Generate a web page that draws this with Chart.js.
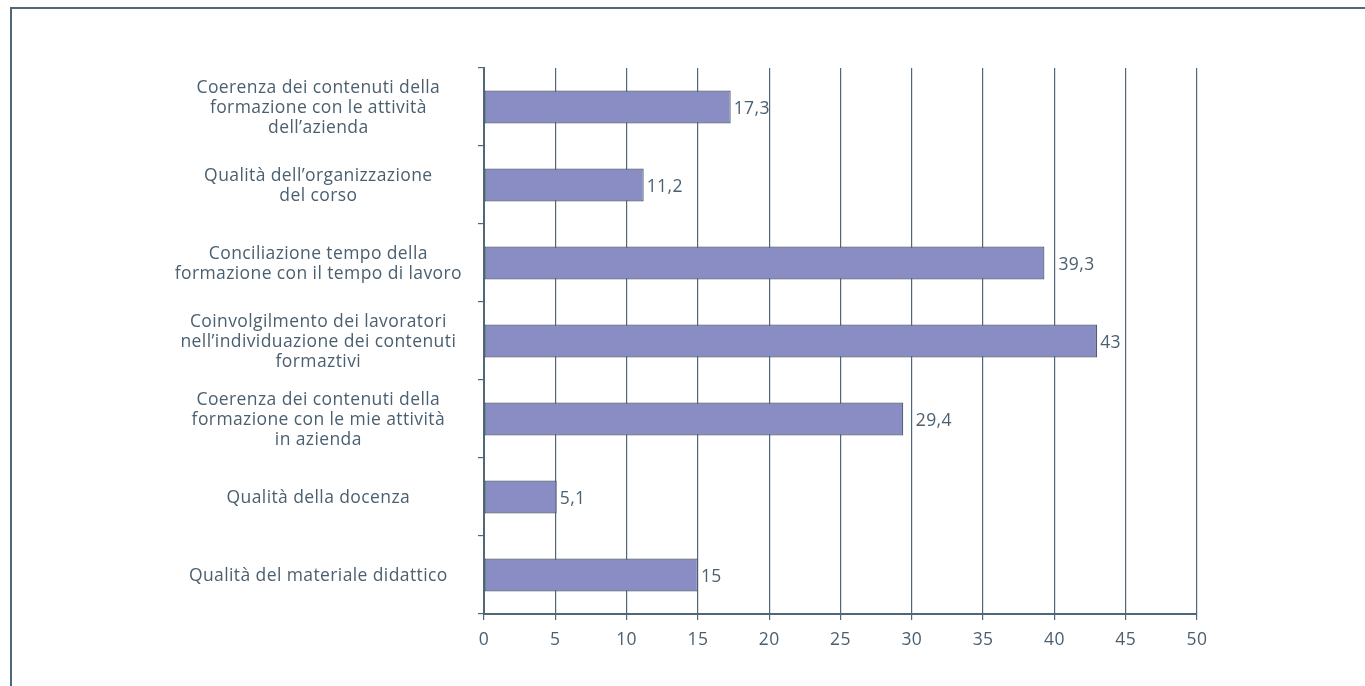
<!DOCTYPE html>
<html>
<head>
<meta charset="utf-8">
<title>Fattori di soddisfazione della formazione</title>
<script src="https://cdn.jsdelivr.net/npm/chart.js@4.4.1/dist/chart.umd.min.js"></script>
<style>
  html, body { margin: 0; padding: 0; background: #ffffff; }
  #wrap { position: relative; width: 1365px; height: 686px; overflow: hidden; }
  #frame { position: absolute; left: 10px; top: 7px; right: -4px; bottom: -4px;
           border-top: 2px solid #4f6778; border-left: 2px solid #4f6778; }
  #chart { position: absolute; left: 0; top: 0; }
</style>
</head>
<body>
<div id="wrap">
  <div id="frame"></div>
  <canvas id="chart" width="1365" height="686"></canvas>
</div>
<script>
// Categories (multi-line labels), percentages and x-axis ticks
const categories = [
  ["Coerenza dei contenuti della", "formazione con le attività", "dell’azienda"],
  ["Qualità dell’organizzazione", "del corso"],
  ["Conciliazione tempo della", "formazione con il tempo di lavoro"],
  ["Coinvolgilmento dei lavoratori", "nell’individuazione dei contenuti", "formaztivi"],
  ["Coerenza dei contenuti della", "formazione con le mie attività", "in azienda"],
  ["Qualità della docenza"],
  ["Qualità del materiale didattico"]
];
const values = [17.3, 11.2, 39.3, 43, 29.4, 5.1, 15];
const xTicks = [0, 5, 10, 15, 20, 25, 30, 35, 40, 45, 50];

const TEXT = '#4a5f6f';
const LINE = '#4f6778';
const FONT = 'Open Sans';
const SIZE = 17.5;
const SPACING = '0.4px';

// Slight tracking for every text the chart writes
const tracking = {
  id: 'tracking',
  beforeLayout(chart) { chart.ctx.letterSpacing = SPACING; },
  beforeDraw(chart) { chart.ctx.letterSpacing = SPACING; }
};

// Value labels written next to each bar end, Italian decimal comma;
// a label that would sit on a gridline is moved just past it
const valueLabels = {
  id: 'valueLabels',
  afterDatasetsDraw(chart) {
    const ctx = chart.ctx;
    const xs = chart.scales.x;
    const meta = chart.getDatasetMeta(0);
    ctx.save();
    ctx.letterSpacing = SPACING;
    ctx.fillStyle = TEXT;
    ctx.font = SIZE + 'px "' + FONT + '"';
    ctx.textAlign = 'left';
    ctx.textBaseline = 'middle';
    meta.data.forEach((bar, i) => {
      const txt = String(values[i]).replace('.', ',');
      let x = bar.x + 3;
      xTicks.forEach(t => {
        const gx = xs.getPixelForValue(t);
        if (gx > bar.x + 1 && gx < bar.x + 13) x = gx + 4;
      });
      ctx.fillText(txt, x, bar.y + 2);
    });
    ctx.restore();
  }
};

new Chart(document.getElementById('chart'), {
  type: 'bar',
  data: {
    labels: categories,
    datasets: [{
      data: values,
      backgroundColor: '#8a8dc4',
      borderColor: '#4c5e6e',
      borderWidth: 1.2,
      borderSkipped: false,
      categoryPercentage: 1,
      barPercentage: 0.42
    }]
  },
  options: {
    indexAxis: 'y',
    responsive: false,
    animation: false,
    events: [],
    layout: { padding: { top: 68, right: 168, left: 0, bottom: 0 } },
    plugins: { legend: { display: false }, tooltip: { enabled: false } },
    scales: {
      x: {
        type: 'linear',
        min: 0,
        max: 50,
        afterBuildTicks(scale) { scale.ticks = xTicks.map(v => ({ value: v })); },
        afterFit(scale) { scale.height = 72; },
        grid: { color: LINE, lineWidth: 1.2, tickLength: 6, drawOnChartArea: true },
        border: { color: LINE, width: 2 },
        ticks: { color: TEXT, font: { family: FONT, size: SIZE }, padding: 10 }
      },
      y: {
        type: 'category',
        afterFit(scale) { scale.width = 484; },
        grid: { offset: true, drawOnChartArea: false, color: LINE, tickLength: 6, lineWidth: 1.2 },
        border: { color: LINE, width: 2 },
        ticks: {
          color: TEXT,
          crossAlign: 'center',
          padding: 16,
          labelOffset: 1,
          font: { family: FONT, size: SIZE, lineHeight: 1.13 }
        }
      }
    }
  },
  plugins: [tracking, valueLabels]
});
</script>
</body>
</html>
